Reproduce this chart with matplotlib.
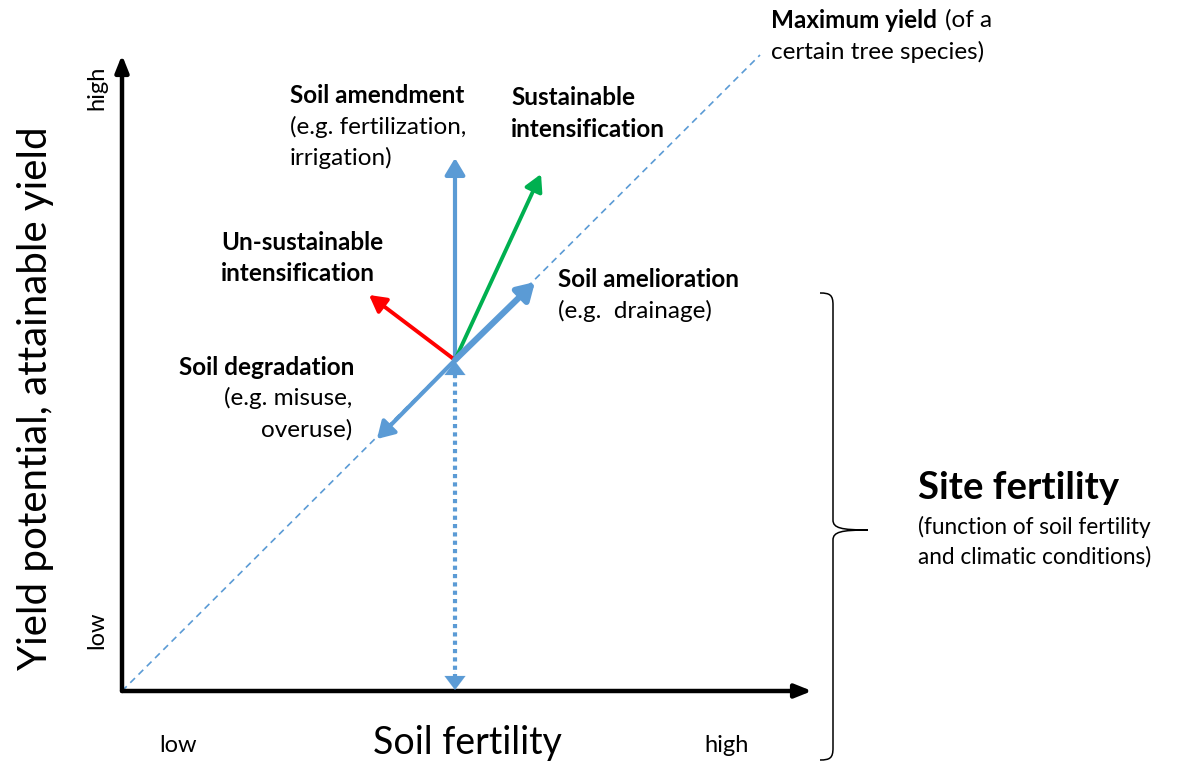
import matplotlib.pyplot as plt
from matplotlib.path import Path
from matplotlib.patches import PathPatch

plt.rcParams['font.family'] = ['Lato', 'DejaVu Sans']

# diagram coordinates in picture pixels (x to the right, y downwards)
origin = (122, 691)
y_axis_top = (122, 55)
x_axis_end = (812, 691)
max_yield_end = (760, 55)
centre = (455, 360)

blue = '#5B9BD5'
green = '#00B050'
red = '#FF0000'

# arrows from the current site (name, tip, colour, width)
arrow_names = ['amendment', 'sustainable', 'unsustainable', 'amelioration', 'degradation']
arrow_tips = [(455, 158), (541, 174), (369, 295), (535, 282), (377, 439)]
arrow_colors = [blue, green, red, blue, blue]
arrow_widths = [3.0, 2.8, 2.8, 4.5, 3.0]
arrow_heads = [(1.0, 0.6), (1.0, 0.55), (1.0, 0.55), (1.0, 0.6), (1.0, 0.6)]

fig = plt.figure(figsize=(11.91, 7.65), dpi=100)
ax = fig.add_axes([0, 0, 1, 1])
ax.set_xlim(0, 1191)
ax.set_ylim(765, 0)
ax.axis('off')

# max yield line
ax.plot([origin[0], max_yield_end[0]], [origin[1], max_yield_end[1]],
        color=blue, lw=1.2, ls=(0, (4, 3)))

# axes
for end in [y_axis_top, x_axis_end]:
    ax.annotate('', xy=end, xytext=origin,
                arrowprops=dict(arrowstyle='-|>,head_length=1.0,head_width=0.4',
                                color='black', lw=3.2, shrinkA=0, shrinkB=0))

# dotted vertical line with heads at both ends
ax.plot([centre[0], centre[0]], [centre[1] + 14, origin[1] - 12],
        color=blue, lw=3, ls=(0, (1, 1)))
for tip, tail in [((centre[0], centre[1] + 1), (centre[0], centre[1] + 20)),
                  ((centre[0], origin[1] - 1), (centre[0], origin[1] - 20))]:
    ax.annotate('', xy=tip, xytext=tail,
                arrowprops=dict(arrowstyle='-|>,head_length=1.0,head_width=0.75',
                                color=blue, lw=0.1, shrinkA=0, shrinkB=0))

for name, tip, col, w, (hl, hw) in zip(arrow_names, arrow_tips, arrow_colors,
                                       arrow_widths, arrow_heads):
    ax.annotate('', xy=tip, xytext=centre,
                arrowprops=dict(arrowstyle=f'-|>,head_length={hl},head_width={hw}',
                                color=col, lw=w, shrinkA=0, shrinkB=0))

fs = 17.5
bold = dict(fontsize=fs, fontweight='bold', color='black')
norm = dict(fontsize=fs, color='black')

ax.text(290, 95, 'Soil amendment', va='center', ha='left', **bold)
ax.text(290, 127, '(e.g. fertilization,', va='center', ha='left', **norm)
ax.text(290, 158, 'irrigation)', va='center', ha='left', **norm)

ax.text(511, 97, 'Sustainable', va='center', ha='left', **bold)
ax.text(511, 129, 'intensification', va='center', ha='left', **bold)

ax.text(221, 242, 'Un-sustainable', va='center', ha='left', **bold)
ax.text(221, 273, 'intensification', va='center', ha='left', **bold)

ax.text(558, 279, 'Soil amelioration', va='center', ha='left', **bold)
ax.text(558, 311, '(e.g.  drainage)', va='center', ha='left', **norm)

ax.text(354, 367, 'Soil degradation', va='center', ha='right', **bold)
ax.text(352, 398, '(e.g. misuse,', va='center', ha='right', **norm)
ax.text(352, 430, 'overuse)', va='center', ha='right', **norm)

ax.text(771, 20, 'Maximum yield', va='center', ha='left', **bold)
ax.text(945, 20, '(of a', va='center', ha='left', **norm)
ax.text(771, 52, 'certain tree species)', va='center', ha='left', **norm)

# axis labels
ax.text(97, 88, 'high', rotation=90, va='center', ha='center', fontsize=17)
ax.text(97, 630, 'low', rotation=90, va='center', ha='center', fontsize=17)
ax.text(178, 745, 'low', va='center', ha='center', fontsize=17)
ax.text(727, 745, 'high', va='center', ha='center', fontsize=17)
ax.text(467, 743, 'Soil fertility', va='center', ha='center', fontsize=27)
ax.text(36, 398, 'Yield potential, attainable yield', rotation=90,
        va='center', ha='center', fontsize=29)

# curly brace
bx, top, bot, mid, tipx = 833, 293, 760, 530, 868
verts = [(820, top), (830, top), (bx, top + 2), (bx, top + 12),
         (bx, mid - 10),
         (bx, mid - 2), (bx + 8, mid), (tipx, mid),
         (bx + 8, mid), (bx, mid + 2), (bx, mid + 10),
         (bx, bot - 12),
         (bx, bot - 2), (830, bot), (820, bot)]
codes = [Path.MOVETO, Path.CURVE4, Path.CURVE4, Path.CURVE4,
         Path.LINETO,
         Path.CURVE4, Path.CURVE4, Path.CURVE4,
         Path.CURVE4, Path.CURVE4, Path.CURVE4,
         Path.LINETO,
         Path.CURVE4, Path.CURVE4, Path.CURVE4]
ax.add_patch(PathPatch(Path(verts, codes), fill=False, lw=1.1, color='black'))

ax.text(918, 488, 'Site fertility', va='center', ha='left', fontsize=27.5, fontweight='bold')
ax.text(918, 527, '(function of soil fertility', va='center', ha='left', fontsize=16.3)
ax.text(918, 557, 'and climatic conditions)', va='center', ha='left', fontsize=16.3)

fig.savefig('out.png', dpi=100)
